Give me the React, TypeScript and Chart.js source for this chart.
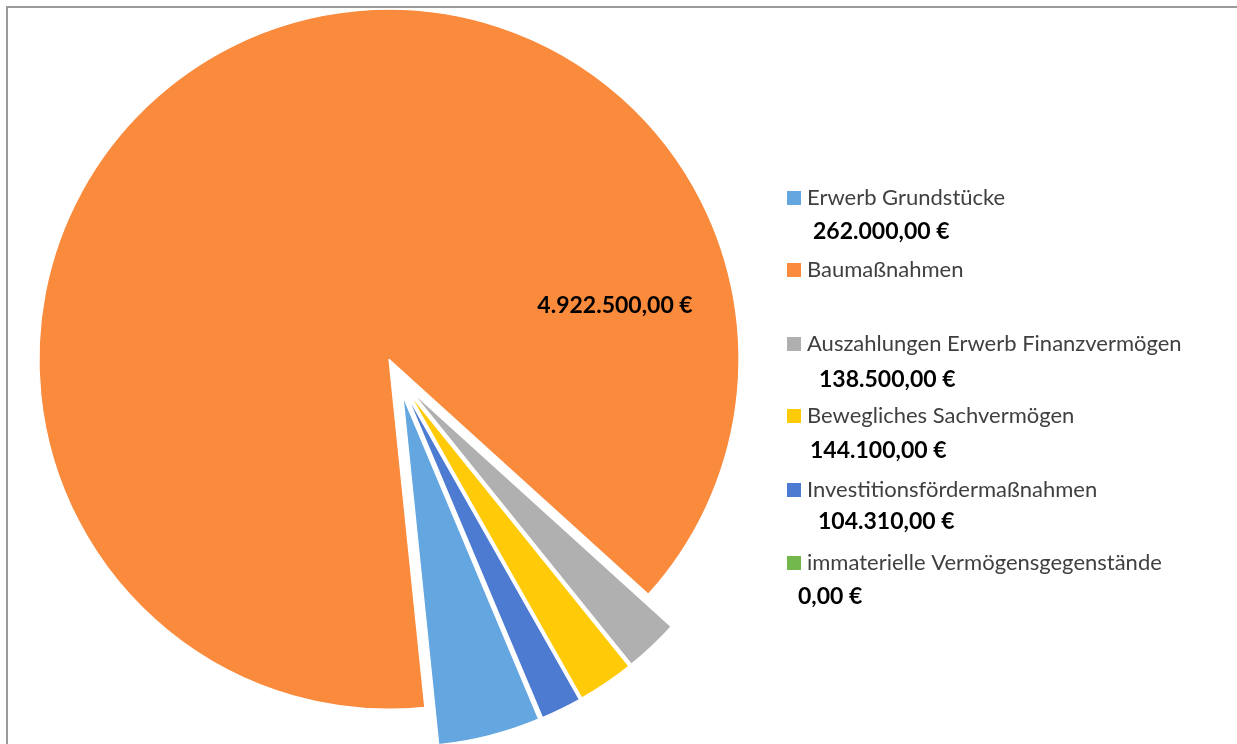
import { useEffect, useRef } from "react";
import { Chart, registerables } from "chart.js";

Chart.register(...registerables);

// ---- data ----
const categories = [
  "Erwerb Grundstücke",
  "Baumaßnahmen",
  "Auszahlungen Erwerb Finanzvermögen",
  "Bewegliches Sachvermögen",
  "Investitionsfördermaßnahmen",
  "immaterielle Vermögensgegenstände",
];
const values = [262000, 4922500, 138500, 144100, 104310, 0];
const legendValueLabels = ["262.000,00 €", "", "138.500,00 €", "144.100,00 €", "104.310,00 €", "0,00 €"];
const sliceLabel = "4.922.500,00 €";

// ---- styles ----
const sliceColors = ["#64A6E0", "#FA8A3C", "#B0B0B0", "#FFCB08", "#4C7BD1", "#72B84C"];
const EXPLODE = 20;

const LEGEND_X = 787;
const labelBaselines = [205, 277, 351, 423, 497, 570];
const valueBaselines = [239, 0, 387, 458, 529, 604];
const valueX = [813, 0, 819, 810, 818, 798];

const FONT = "Lato, 'Open Sans', sans-serif";

const explodePlugin = {
  id: "explodeArcs",
  beforeDatasetDraw(chart: any, args: any) {
    const meta = args.meta;
    const ctx = chart.ctx;
    meta.data.forEach((arc: any) => {
      const mid = (arc.startAngle + arc.endAngle) / 2;
      ctx.save();
      ctx.translate(Math.cos(mid) * EXPLODE, Math.sin(mid) * EXPLODE);
      arc.draw(ctx);
      ctx.restore();
    });
    return false;
  },
};

const textPlugin = {
  id: "textLabels",
  afterDraw(chart: any) {
    const ctx = chart.ctx;
    const arc = chart.getDatasetMeta(0).data[1];
    ctx.save();
    // slice label
    ctx.fillStyle = "#000000";
    ctx.font = `bold 23px ${FONT}`;
    ctx.textAlign = "center";
    ctx.textBaseline = "alphabetic";
    ctx.fillText(sliceLabel, arc.x + 217, arc.y - 64);

    // legend
    ctx.textAlign = "left";
    categories.forEach((name, i) => {
      const b = labelBaselines[i];
      ctx.fillStyle = sliceColors[i];
      ctx.fillRect(LEGEND_X, b - 14, 14, 14);
      ctx.fillStyle = "#404040";
      ctx.font = `22px ${FONT}`;
      ctx.fillText(name, LEGEND_X + 20, b);
      if (legendValueLabels[i]) {
        ctx.fillStyle = "#000000";
        ctx.font = `bold 23px ${FONT}`;
        ctx.fillText(legendValueLabels[i], valueX[i], valueBaselines[i]);
      }
    });
    ctx.restore();
  },
};

export default function App() {
  const ref = useRef<HTMLCanvasElement>(null);
  useEffect(() => {
    if (!ref.current) return;
    const chart = new Chart(ref.current, {
      type: "pie",
      data: {
        labels: categories,
        datasets: [
          {
            data: values,
            backgroundColor: sliceColors,
            borderColor: "#ffffff",
            borderWidth: 1.2,
            clip: false,
          } as any,
        ],
      },
      options: {
        responsive: false,
        animation: false,
        rotation: 157.2,
        radius: 350,
        layout: { padding: { left: 0, top: 10, right: 1237 - 796, bottom: 0 } },
        plugins: {
          legend: { display: false },
          tooltip: { enabled: false },
        },
      } as any,
      plugins: [explodePlugin, textPlugin],
    });
    return () => chart.destroy();
  }, []);

  return (
    <div style={{ position: "fixed", left: 0, top: 0, width: 1237, height: 744, background: "#fff", overflow: "hidden" }}>
      <div
        style={{
          position: "absolute",
          left: 6,
          top: 6,
          width: 1300,
          height: 800,
          borderTop: "2px solid #9a9a9a",
          borderLeft: "2px solid #9a9a9a",
        }}
      />
      <canvas ref={ref} width={1237} height={744} style={{ position: "absolute", left: 0, top: 0, width: 1237, height: 744 }} />
    </div>
  );
}
